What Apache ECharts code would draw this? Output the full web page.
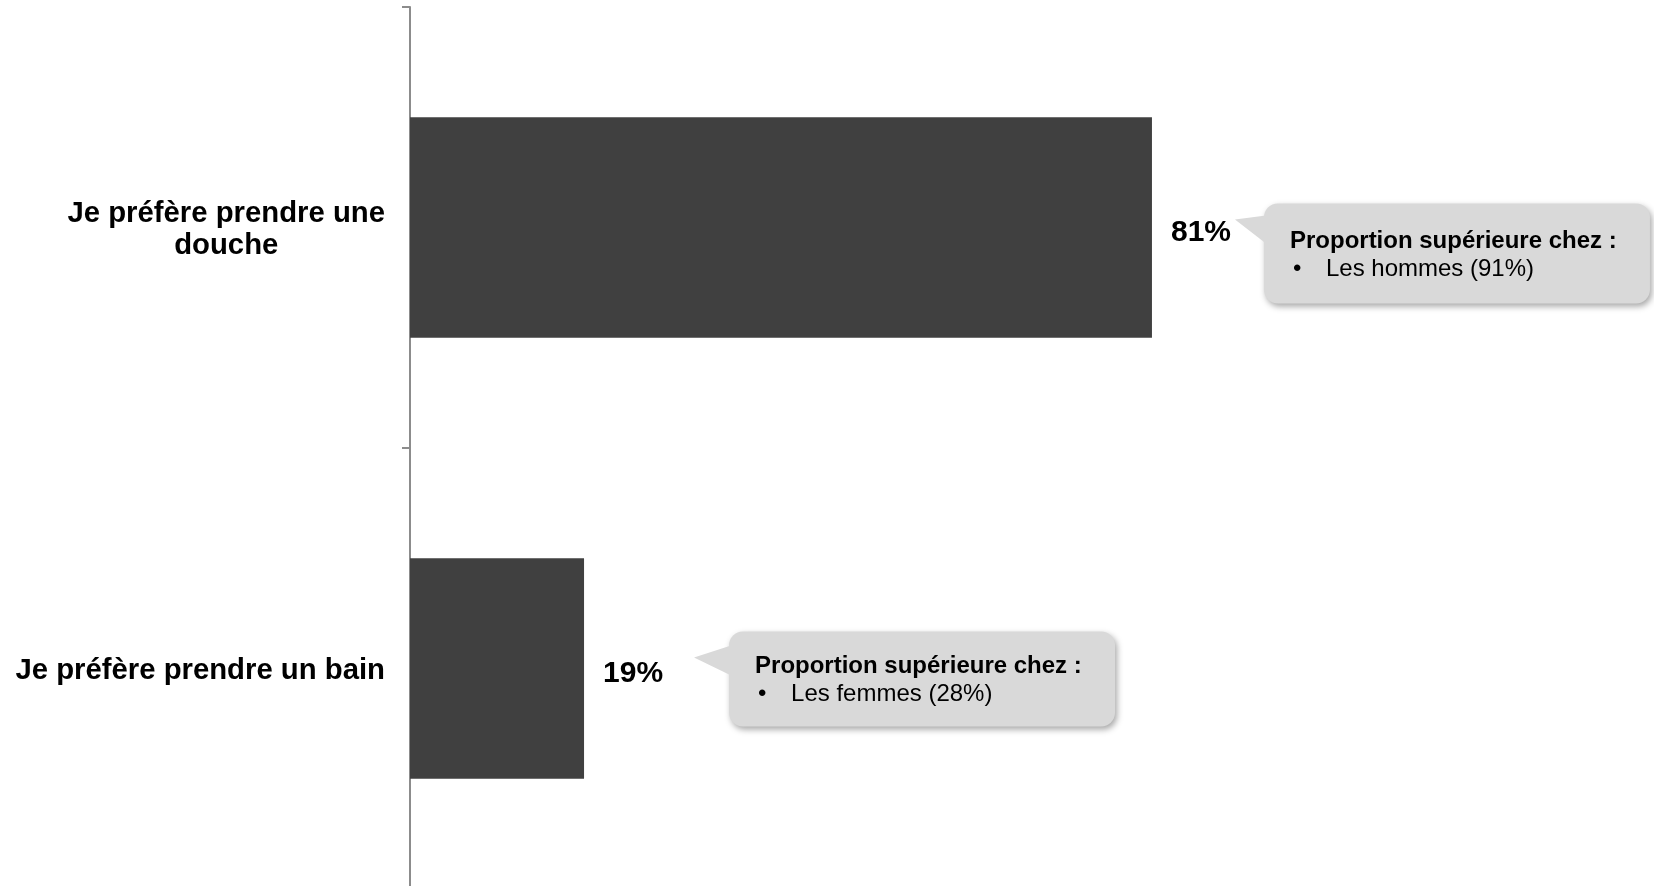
<!DOCTYPE html>
<html><head><meta charset="utf-8">
<script src="https://cdn.jsdelivr.net/npm/echarts@6/dist/echarts.min.js"></script>
<style>html,body{margin:0;padding:0;background:#fff}#c{width:1654px;height:886px}</style>
</head><body><div id="c"></div>
<script>
const categories = ['Je préfère prendre une\ndouche', 'Je préfère prendre un bain'];
const values = [81, 19];
const calloutTitles = ['Proportion supérieure chez :', 'Proportion supérieure chez :'];
const calloutItems = ['Les hommes (91%)', 'Les femmes (28%)'];
// layout of callouts relative to the bar end / bar centre (pixels)
const calloutLayout = [
  {dx: 112, dy: -24, w: 386, h: 100, tipX: -29, tipY: 16, baseA: 12, baseB: 40, t1: 38, t2: 66},
  {dx: 145, dy: -37, w: 386, h: 95, tipX: -35, tipY: 26, baseA: 14, baseB: 44, t1: 35, t2: 63}
];
const FONT = 'Liberation Sans, Arial, Helvetica, sans-serif';

const chart = echarts.init(document.getElementById('c'), null, {renderer: 'canvas'});
chart.setOption({
  animation: false,
  backgroundColor: '#ffffff',
  grid: {left: 410, width: 916, top: 7, height: 882, containLabel: false, outerBoundsMode: 'none'},
  xAxis: {type: 'value', min: 0, max: 100, show: false},
  yAxis: {
    type: 'category', data: categories, inverse: true,
    axisLine: {show: true, lineStyle: {color: '#8c8c8c', width: 2}},
    axisTick: {show: true, length: 8, lineStyle: {color: '#8c8c8c', width: 2}},
    splitLine: {show: false},
    axisLabel: {
      margin: 25,
      formatter: v => v.split('\n').map(s => '{a|' + s + '}').join('\n'),
      rich: {a: {align: 'center', fontSize: 29.3, fontWeight: 'bold', lineHeight: 32, padding: [4, 0, 0, 0], color: '#000', fontFamily: FONT}}
    }
  },
  series: [{
    type: 'bar', data: values, barWidth: '50%',
    itemStyle: {color: '#404040'},
    label: {show: true, position: 'right', distance: 19, offset: [0, 5],
      formatter: p => p.value + '%', fontSize: 30, fontWeight: 'bold', color: '#000', fontFamily: FONT}
  }]
});

const graphics = [];
values.forEach((v, i) => {
  const p = chart.convertToPixel({gridIndex: 0}, [v, i]);
  const L = calloutLayout[i];
  const x = p[0] + L.dx, y = p[1] + L.dy;
  graphics.push({type: 'rect', z: 10, shape: {x: x, y: y, width: L.w, height: L.h, r: 14},
    style: {fill: '#d9d9d9', shadowBlur: 6, shadowOffsetX: 2, shadowOffsetY: 3, shadowColor: 'rgba(0,0,0,0.35)'}});
  graphics.push({type: 'polygon', z: 11, shape: {points: [[x + L.tipX, y + L.tipY], [x + 2, y + L.baseA], [x + 2, y + L.baseB]]},
    style: {fill: '#d9d9d9'}});
  graphics.push({type: 'text', z: 12, x: x + 26, y: y + L.t1,
    style: {text: calloutTitles[i], fontSize: 24, fontWeight: 'bold', fontFamily: FONT, fill: '#000', align: 'left', verticalAlign: 'middle'}});
  graphics.push({type: 'text', z: 12, x: x + 29, y: y + L.t2,
    style: {text: '•', fontSize: 24, fontFamily: FONT, fill: '#000', align: 'left', verticalAlign: 'middle'}});
  graphics.push({type: 'text', z: 12, x: x + 62, y: y + L.t2,
    style: {text: calloutItems[i], fontSize: 24, fontFamily: FONT, fill: '#000', align: 'left', verticalAlign: 'middle'}});
});
chart.setOption({graphic: graphics});
</script></body></html>
